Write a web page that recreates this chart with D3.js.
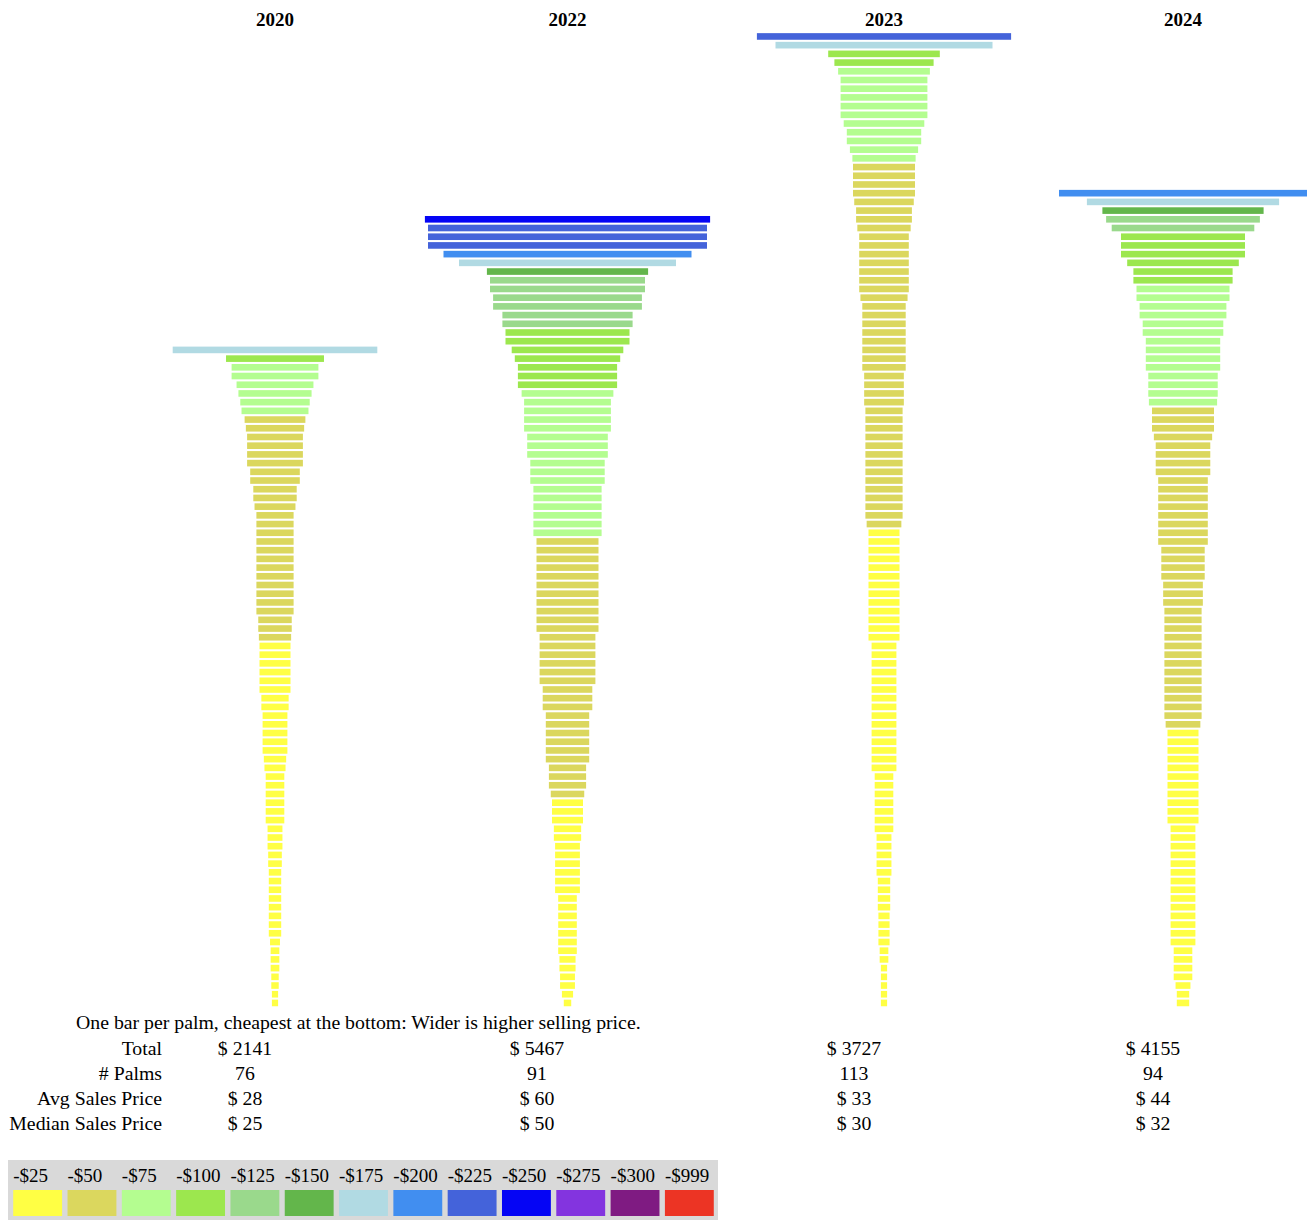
<!DOCTYPE html>
<html>
<head>
<meta charset="utf-8">
<script src="https://cdn.jsdelivr.net/npm/d3@7"></script>
<style>
  body { margin: 0; background: #fff; }
  svg { display: block; }
  text { font-family: "Liberation Serif", "Times New Roman", serif; fill: #000; }
</style>
</head>
<body>
<svg id="svg" width="1309" height="1220"></svg>
<script>
var years = ["2020", "2022", "2023", "2024"];

// one price per palm, cheapest first
var prices2020 = [5, 5, 6, 6, 7, 7, 7, 8, 10, 10, 10, 10, 10, 10, 10, 10, 11, 11, 12, 12, 12,
  15, 15, 15, 15, 15, 15, 17, 18, 20, 20, 20, 20, 20, 22, 22, 25, 25, 25, 25, 25, 25,
  26, 27, 27, 30, 30, 30, 30, 30, 30, 30, 30, 30, 30, 30, 30, 33, 35, 35, 40, 40,
  45, 45, 45, 45, 47, 49, 54, 56, 59, 62, 70, 70, 79, 165];
var prices2022 = [6, 9, 12, 12, 13, 13, 15, 15, 15, 15, 15, 15, 15, 20, 20, 20, 20, 20, 20,
  22, 22, 25, 25, 25, 27, 30, 30, 30, 35, 35, 35, 35, 35, 35, 40, 40, 40,
  45, 45, 45, 45, 45, 45, 50, 50, 50, 50, 50, 50, 50, 50, 50, 50, 50,
  55, 55, 55, 55, 55, 55, 60, 60, 60, 65, 65, 65, 70, 70, 70, 70, 74,
  80, 80, 80, 85, 90, 100, 100, 105, 105, 120, 120, 125, 125, 130, 175, 200,
  225, 225, 225, 230];
var prices2023 = [5, 5, 5, 5, 5, 7, 7, 9, 9, 9, 9, 10, 10, 10, 10, 12, 12, 12, 12, 12,
  15, 15, 15, 15, 15, 15, 15, 20, 20, 20, 20, 20, 20, 20, 20, 20, 20, 20, 20, 20, 20, 20,
  25, 25, 25, 25, 25, 25, 25, 25, 25, 25, 25, 25, 25,
  28, 30, 30, 30, 30, 30, 30, 30, 30, 30, 30, 30, 30, 30, 32, 32, 32, 32,
  35, 35, 35, 35, 35, 35, 35, 35, 38, 40, 40, 40, 40, 40, 40, 40, 43, 45, 45, 48,
  50, 50, 50, 50, 51, 55, 60, 60, 65, 70, 70, 70, 70, 70, 74, 80, 90, 175, 205];
var prices2024 = [10, 10, 12, 15, 15, 15, 15, 20, 20, 20, 20, 20, 20, 20, 20, 20, 20, 20, 20, 20, 20,
  25, 25, 25, 25, 25, 25, 25, 25, 25, 25, 25,
  28, 30, 30, 30, 30, 30, 30, 30, 30, 30, 30, 30, 30, 30, 32, 32, 32, 35, 35, 35, 35,
  40, 40, 40, 40, 40, 40, 40, 40, 44, 44, 44, 44, 47, 50, 50, 50,
  55, 56, 56, 56, 60, 60, 60, 60, 65, 65, 70, 70, 75, 75, 80, 80, 90,
  100, 100, 100, 115, 124, 130, 155, 200];
var pricesByYear = [prices2020, prices2022, prices2023, prices2024];

var statLabels = ["Total", "# Palms", "Avg Sales Price", "Median Sales Price"];
var totals = ["$ 2141", "$ 5467", "$ 3727", "$ 4155"];
var palmCounts = ["76", "91", "113", "94"];
var avgPrices = ["$ 28", "$ 60", "$ 33", "$ 44"];
var medianPrices = ["$ 25", "$ 50", "$ 30", "$ 32"];
var statRows = [totals, palmCounts, avgPrices, medianPrices];

var legendLabels = ["-$25", "-$50", "-$75", "-$100", "-$125", "-$150", "-$175",
  "-$200", "-$225", "-$250", "-$275", "-$300", "-$999"];
var legendMax = [25, 50, 75, 100, 125, 150, 175, 200, 225, 250, 275, 300, 999];
var legendColors = ["#ffff44", "#dbd75e", "#b4fd90", "#9ce74e", "#9ad98c", "#63b64b", "#b1dae3",
  "#418ef0", "#4463da", "#0505f5", "#8334df", "#7f1b82", "#ec3424"];

var svg = d3.select("#svg");

function priceColor(p) {
  return legendColors[d3.bisectLeft(legendMax, p)];
}

var colX = d3.scaleOrdinal().domain(years).range([275, 567.5, 884, 1183]);
var statX = d3.scaleOrdinal().domain(years).range([245, 537, 854, 1153]);
var widthScale = d3.scaleLinear().domain([0, 250]).range([0, 310]);
var maxCount = d3.max(pricesByYear, function (d) { return d.length; });
var yScale = d3
  .scaleBand()
  .domain(d3.range(maxCount))
  .range([1007.3, 32.1])
  .paddingInner(0.24)
  .paddingOuter(0.12);

// year headers
svg
  .selectAll("text.year")
  .data(years)
  .enter()
  .append("text")
  .attr("class", "year")
  .attr("x", function (d) { return colX(d); })
  .attr("y", 26)
  .attr("text-anchor", "middle")
  .style("font-weight", "bold")
  .style("font-size", "19px")
  .text(function (d) { return d; });

// bars, one per palm
years.forEach(function (yr, i) {
  var sorted = pricesByYear[i].slice().sort(d3.ascending);
  svg
    .append("g")
    .selectAll("rect")
    .data(sorted)
    .enter()
    .append("rect")
    .attr("x", function (d) { return colX(yr) - widthScale(d) / 2; })
    .attr("y", function (d, k) { return yScale(k); })
    .attr("width", function (d) { return widthScale(d); })
    .attr("height", yScale.bandwidth())
    .attr("fill", function (d) { return priceColor(d); });
});

svg
  .append("text")
  .attr("x", 76)
  .attr("y", 1029)
  .style("font-size", "19.8px")
  .text("One bar per palm, cheapest at the bottom: Wider is higher selling price.");

// stats table
var rowY = d3.scalePoint().domain(statLabels).range([1055, 1130]);
svg
  .selectAll("text.statLabel")
  .data(statLabels)
  .enter()
  .append("text")
  .attr("class", "statLabel")
  .attr("x", 162)
  .attr("y", function (d) { return rowY(d); })
  .attr("text-anchor", "end")
  .style("font-size", "19.8px")
  .text(function (d) { return d; });

statRows.forEach(function (row, r) {
  svg
    .append("g")
    .selectAll("text")
    .data(row)
    .enter()
    .append("text")
    .attr("x", function (d, i) { return statX(years[i]); })
    .attr("y", rowY(statLabels[r]))
    .attr("text-anchor", "middle")
    .style("font-size", "19.8px")
    .text(function (d) { return d; });
});

// legend
var legX = d3
  .scaleBand()
  .domain(legendLabels)
  .range([10.5, 716.5])
  .paddingInner(0.1)
  .paddingOuter(0.05);
svg
  .append("rect")
  .attr("x", 8)
  .attr("y", 1160)
  .attr("width", 710)
  .attr("height", 60)
  .attr("fill", "#d9d9d9");
var leg = svg.append("g");
leg
  .selectAll("rect")
  .data(legendLabels)
  .enter()
  .append("rect")
  .attr("x", function (d) { return legX(d); })
  .attr("y", 1190)
  .attr("width", legX.bandwidth())
  .attr("height", 26)
  .attr("fill", function (d, i) { return legendColors[i]; });
leg
  .selectAll("text")
  .data(legendLabels)
  .enter()
  .append("text")
  .attr("x", function (d) { return legX(d); })
  .attr("y", 1182)
  .style("font-size", "19px")
  .text(function (d) { return d; });
</script>
</body>
</html>
